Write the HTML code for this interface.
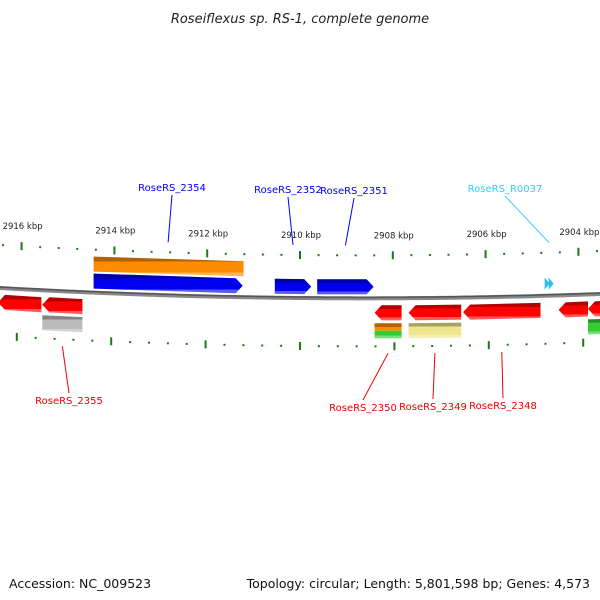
<!DOCTYPE html>
<html><head><meta charset="utf-8"><style>
body{margin:0;background:#fff}
svg{display:block}
text{font-family:"DejaVu Sans","Liberation Sans",sans-serif}
</style></head><body>
<svg id="chart" width="600" height="600" viewBox="0 0 600 600">
<defs>
<linearGradient id="shade" x1="0" y1="0" x2="0" y2="1">
<stop offset="0" stop-color="#000" stop-opacity="0.3"/><stop offset="0.25" stop-color="#000" stop-opacity="0.3"/>
<stop offset="0.26" stop-color="#000" stop-opacity="0"/><stop offset="0.8" stop-color="#fff" stop-opacity="0"/>
<stop offset="0.81" stop-color="#fff" stop-opacity="0.35"/><stop offset="1" stop-color="#fff" stop-opacity="0.35"/>
</linearGradient>
</defs>
<text x="300" y="23" text-anchor="middle" font-size="13" font-style="italic" fill="#222">Roseiflexus sp. RS-1, complete genome</text>
<text x="9" y="588" font-size="12.5" fill="#111">Accession: NC_009523</text>
<text x="590" y="588" text-anchor="end" font-size="12.5" fill="#111">Topology: circular; Length: 5,801,598 bp; Genes: 4,573</text>
<g id="g"></g>
</svg>
<script>
// genes: start/end in kbp, strand, row, color
const geneStart = [2914.43,2914.43,2910.54,2909.63,2904.75,2916.48,2915.53,2915.53,2908.40,2908.40,2907.67,2907.67,2906.50,2904.45,2903.82,2903.82];
const geneEnd   = [2911.21,2911.23,2909.76,2908.42,2904.56,2915.55,2914.67,2914.67,2907.82,2907.82,2906.54,2906.54,2904.84,2903.82,2903.40,2903.40];
const geneRow   = ['orange','blue','blue','blue','cyan','red','red','gray','red','og','red','khaki','red','red','red','green'];
const majorTicks = [2916,2914,2912,2910,2908,2906,2904];
const labelNames = ['RoseRS_2354','RoseRS_2352','RoseRS_2351','RoseRS_R0037','RoseRS_2355','RoseRS_2350','RoseRS_2349','RoseRS_2348'];
const labelGene  = [1,2,3,4,6,8,10,12];
const labelX = [172,288,354,505,69,363,433,503];
const labelY = [191,193,194,192,404,411,410,409];

const NS='http://www.w3.org/2000/svg';
const g=document.getElementById('g');
function curve(x){return 288 + (-7.78e-5*x*x + 0.0567*x);}
function xs(k,s){return 300+(2910-k)*s;}
const SG=46.6, ST=46.4, SB=47.2;
function mk(tag,attrs){const e=document.createElementNS(NS,tag);for(const k in attrs)e.setAttribute(k,attrs[k]);g.appendChild(e);return e;}

// backbone
let d='';for(let x=-5;x<=605;x+=5){d+=(x==-5?'M':'L')+x+','+curve(x).toFixed(2);}
let bb=mk('path',{d:d,stroke:'#888',fill:'none','stroke-width':4});

let bb2=mk('path',{d:d,stroke:'#555',fill:'none','stroke-width':1.5,transform:'translate(0,-1)'});


// ticks
function tickRow(scale,off,name){
  for(let i=0;i<=36;i++){
    const k=2917.2-i*0.4; const kk=Math.round(k*10)/10;
    const x=xs(kk,scale); if(x<-3||x>603)continue;
    const y=curve(x)+off;
    const major=Math.abs(kk/2-Math.round(kk/2))<0.01;
    const t=mk('rect',{x:x-1,y:major?y-4:y-1,width:2,height:major?8:2,fill:'#1a7a1a'});
    
    
  }
}
tickRow(ST,-43,'top');tickRow(SB,48,'bottom');
majorTicks.forEach(k=>{const x=xs(k,ST);const t=mk('text',{x:x+1,y:curve(x)-60,'text-anchor':'middle','font-size':8.5,fill:'#222'});
t.textContent=k+' kbp';});

const colors={orange:'#ff8c00',blue:'#0000ee',cyan:'#33bbee',red:'#ff0000',gray:'#bbbbbb',khaki:'#eee68c',green:'#33cc33'};
function geneShape(i){
  const a=xs(geneStart[i],SG), b=xs(geneEnd[i],SG);
  const r=geneRow[i]; let top,bot,arrow=0;
  if(r==='orange'){top=-36;bot=-21;}
  else if(r==='blue'){top=-19;bot=-4;arrow=1;}
  else if(r==='cyan'){top=-18;bot=-6;arrow=2;}
  else if(r==='red'){top=7;bot=22;arrow=-1;}
  else {top=25;bot=40;}
  const ya=curve(a),yb=curve(b),h=bot-top,ah=7;
  let pts;
  if(arrow===1) pts=[[a,ya+top],[b-ah,yb+top],[b,yb+top+h/2],[b-ah,yb+bot],[a,ya+bot]];
  else if(arrow===-1) pts=[[a+ah,ya+top],[b,yb+top],[b,yb+bot],[a+ah,ya+bot],[a,ya+top+h/2]];
  else pts=[[a,ya+top],[b,yb+top],[b,yb+bot],[a,ya+bot]];
  const ps=pts.map(p=>p[0].toFixed(1)+','+p[1].toFixed(1)).join(' ');
  if(arrow===2){
    const m=(a+b)/2,y=curve(m);
    const c1=mk('polygon',{points:`${a},${y+top} ${a+5},${y+top+h/2} ${a},${y+bot}`,fill:colors.cyan});
    
    const c2=mk('polygon',{points:`${a+4},${y+top} ${a+9},${y+top+h/2} ${a+4},${y+bot}`,fill:colors.cyan});
    
    return;
  }
  if(r==='og'){
    const t1=mk('polygon',{points:`${a},${ya+top} ${b},${yb+top} ${b},${yb+top+h/2} ${a},${ya+top+h/2}`,fill:colors.orange});
    
    const t2=mk('polygon',{points:`${a},${ya+top+h/2} ${b},${yb+top+h/2} ${b},${yb+bot} ${a},${ya+bot}`,fill:colors.green});
    
  } else {
    const p=mk('polygon',{points:ps,fill:colors[r]});
    
  }
  const s=mk('polygon',{points:ps,fill:'url(#shade)'});
  
}
for(let i=0;i<geneStart.length;i++)geneShape(i);

// labels
labelNames.forEach((n,j)=>{
  const gi=labelGene[j];const cx=xs((geneStart[gi]+geneEnd[gi])/2,SG);
  const isTop=geneRow[gi]==='blue'||geneRow[gi]==='cyan';
  const col=geneRow[gi]==='cyan'?'#33ccff':(isTop?'#0000ee':'#ee0000');
  const ey=isTop?curve(cx)-53:curve(cx)+55;
  const sy=isTop?labelY[j]+4:labelY[j]-11;
  const l=mk('line',{x1:labelX[j],y1:sy,x2:cx,y2:ey,stroke:col,'stroke-width':1});
  
  const t=mk('text',{x:labelX[j],y:labelY[j],'text-anchor':'middle','font-size':10,fill:col});
  t.textContent=n;
});
</script>
</body></html>
